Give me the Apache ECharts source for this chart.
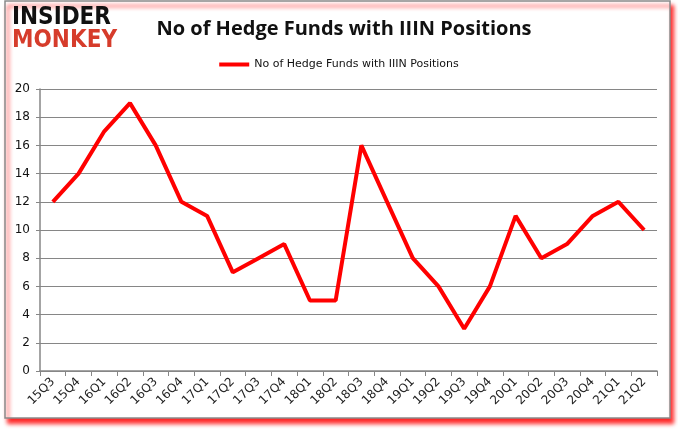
<!DOCTYPE html>
<html><head><meta charset="utf-8">
<script src="https://cdn.jsdelivr.net/npm/echarts@6/dist/echarts.min.js"></script>
<style>html,body{margin:0;padding:0;background:#fff}#c{width:678px;height:431px}</style>
</head><body><div id="c"></div>
<script>
const categories = ['15Q3','15Q4','16Q1','16Q2','16Q3','16Q4','17Q1','17Q2','17Q3','17Q4','18Q1','18Q2','18Q3','18Q4','19Q1','19Q2','19Q3','19Q4','20Q1','20Q2','20Q3','20Q4','21Q1','21Q2'];
const hedgeFunds = [12,14,17,19,16,12,11,7,8,9,5,5,16,12,8,6,3,6,11,8,9,11,12,10];
const seriesName = 'No of Hedge Funds with IIIN Positions';
const titleText = 'No of Hedge Funds with IIIN Positions';

const chart = echarts.init(document.getElementById('c'), null, {renderer:'canvas'});
chart.setOption({
  animation:false,
  backgroundColor:'#fff',
  graphic:[
    {type:'rect', z:-10, shape:{x:5,y:1,width:665,height:417},
     style:{fill:'#fff', stroke:'#8a8a8a', lineWidth:1.5, shadowColor:'rgba(255,0,0,0.85)', shadowBlur:4, shadowOffsetX:3, shadowOffsetY:5}},
    {type:'text', left:12, top:6, style:{text:'INSIDER', fill:'#111', font:'900 24px "DejaVu Sans Condensed", "DejaVu Sans", sans-serif'}},
    {type:'text', left:12, top:29, style:{text:'MONKEY', fill:'#d63c2b', font:'900 24px "DejaVu Sans Condensed", "DejaVu Sans", sans-serif'}}
  ],
  title:{text:titleText, left:339, textAlign:'center', top:14,
    textStyle:{fontFamily:'"Open Sans", "Liberation Sans", sans-serif', fontWeight:'bold', fontSize:20, color:'#111'}},
  legend:{top:54, left:'center', itemWidth:30, itemHeight:4, itemGap:5,
    icon:'rect',
    textStyle:{fontFamily:'"DejaVu Sans", sans-serif', fontSize:11, color:'#111'},
    data:[{name:seriesName, icon:'rect'}]},
  grid:{left:40, right:21, top:89, bottom:60, containLabel:false},
  xAxis:{type:'category', data:categories, boundaryGap:true,
    axisLine:{lineStyle:{color:'#868686', width:1.5}},
    axisTick:{show:true, alignWithLabel:false, length:5, lineStyle:{color:'#868686'}},
    axisLabel:{rotate:45, interval:0, margin:9, color:'#222', fontSize:12, fontFamily:'"DejaVu Sans", sans-serif'}},
  yAxis:{type:'value', min:0, max:20, interval:2,
    axisLine:{show:true, lineStyle:{color:'#868686', width:1.5}},
    axisTick:{show:true, length:4, lineStyle:{color:'#868686'}},
    splitLine:{lineStyle:{color:'#868686', width:1.2}},
    axisLabel:{color:'#111', fontSize:12, margin:10, fontFamily:'"DejaVu Sans", sans-serif'}},
  series:[{name:seriesName, type:'line', data:hedgeFunds, symbol:'none',
    lineStyle:{color:'#ff0000', width:4}, itemStyle:{color:'#ff0000'}}]
});
</script></body></html>
